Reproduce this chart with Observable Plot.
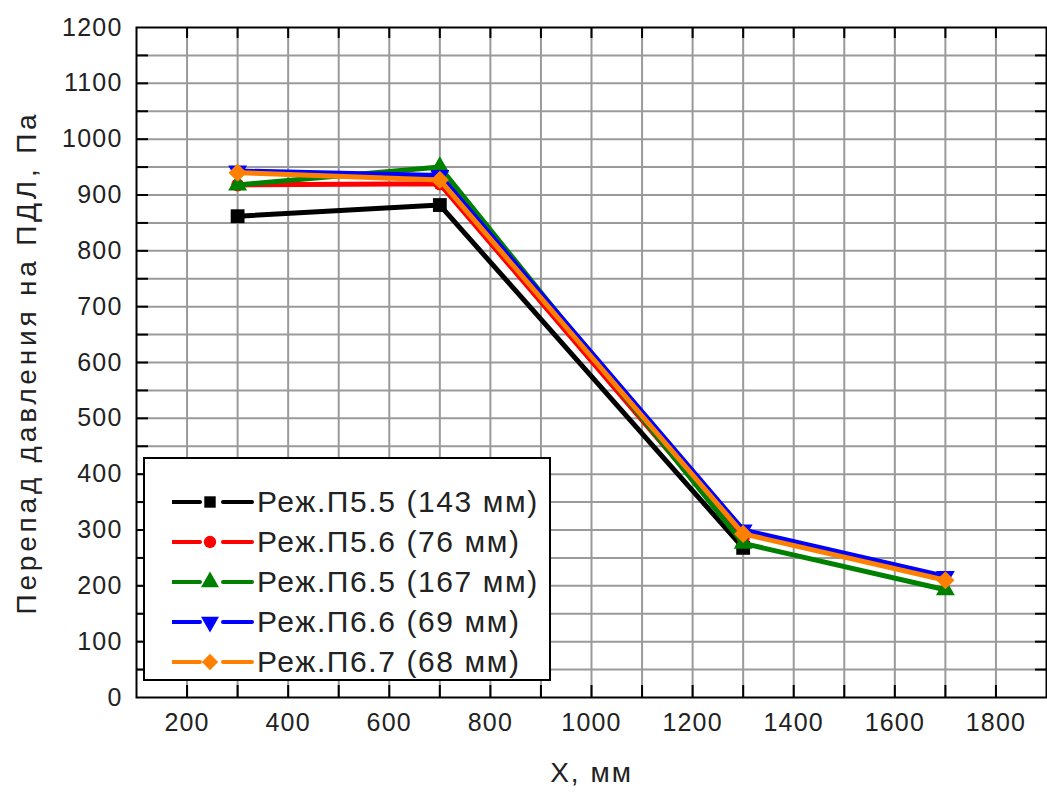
<!DOCTYPE html>
<html><head><meta charset="utf-8">
<script src="https://cdn.jsdelivr.net/npm/d3@7"></script>
<script src="https://cdn.jsdelivr.net/npm/@observablehq/plot@0.6"></script>
<style>
body{margin:0;background:#fff;}
#wrap{position:relative;width:1047px;height:794px;overflow:hidden;background:#fff;}
#wrap svg text{font-family:"Liberation Sans",Arial,sans-serif;fill:#222;}
g[aria-label="x-axis tick label"] text, g[aria-label="y-axis tick label"] text{letter-spacing:1.2px;}
g[aria-label="y-axis label"] text{letter-spacing:3.8px;font-size:28px;}
g[aria-label="x-axis label"] text{letter-spacing:2px;font-size:28px;}
.lg{position:absolute;left:143px;top:457px;width:404px;height:220px;border:2px solid #000;background:#fff;}
.row{position:absolute;left:0;height:40px;width:404px;}
.row svg{position:absolute;left:27px;top:0;}
.row span{position:absolute;left:112px;top:0;line-height:40px;font-family:"Liberation Sans",Arial,sans-serif;font-size:30px;letter-spacing:1.6px;color:#222;white-space:nowrap;}
</style></head>
<body><div id="wrap"></div>
<script>
// ---- data ----
const seriesNames = ["Реж.П5.5 (143 мм)", "Реж.П5.6 (76 мм)", "Реж.П6.5 (167 мм)", "Реж.П6.6 (69 мм)", "Реж.П6.7 (68 мм)"];
const seriesColors = ["#000000", "#ff0000", "#008000", "#0000ff", "#ff8000"];
const seriesSymbols = ["square", "circle", "triangle", "triangle", "diamond2"];
const seriesRotate = [0, 0, 0, 180, 0];
const seriesR = [7.8, 6.5, 7, 7, 8.2];
const xP55 = [300, 700, 1300];       const yP55 = [862, 882, 268];
const xP56 = [300, 700, 1300];       const yP56 = [918, 920, 285];
const xP65 = [300, 700, 1300, 1700]; const yP65 = [918, 950, 276, 193];
const xP66 = [300, 700, 1300, 1700]; const yP66 = [943, 935, 300, 217];
const xP67 = [300, 700, 1300, 1700]; const yP67 = [940, 927, 293, 210];
const xTicks = [200, 400, 600, 800, 1000, 1200, 1400, 1600, 1800];
const yTicks = [0, 100, 200, 300, 400, 500, 600, 700, 800, 900, 1000, 1100, 1200];
const xLabel = "X, мм";
const yLabel = "Перепад давления на ПДЛ, Па";

const xs = [xP55, xP56, xP65, xP66, xP67];
const ys = [yP55, yP56, yP65, yP66, yP67];
const series = xs.map((xa, i) => xa.map((x, j) => ({x, y: ys[i][j]})));

const fmt = d => String(d);
const gridStyle = {stroke: "#9a9a9a", strokeOpacity: 1, strokeWidth: 2};
const marks = [
  Plot.gridX(d3.range(200, 1900, 100), gridStyle),
  Plot.gridY(d3.range(50, 1200, 50), gridStyle),
  Plot.frame({stroke: "#000", strokeWidth: 2}),
  Plot.axisX(d3.range(200, 1900, 100), {anchor: "bottom", tickSize: -12, strokeWidth: 2, tickFormat: () => "", label: null}),
  Plot.axisX(xTicks, {anchor: "bottom", tickSize: 0, tickPadding: 16, fontSize: 25, tickFormat: fmt, label: xLabel, labelArrow: "none", labelAnchor: "center", labelOffset: 84}),
  Plot.axisX(d3.range(200, 1900, 100), {anchor: "top", tickSize: -10, strokeWidth: 2, tickFormat: () => "", label: null}),
  Plot.axisY(d3.range(50, 1200, 50), {anchor: "left", tickSize: -12, strokeWidth: 2, tickFormat: () => "", label: null}),
  Plot.axisY(yTicks, {anchor: "left", tickSize: 0, tickPadding: 14, fontSize: 25, tickFormat: fmt, label: yLabel, labelArrow: "none", labelAnchor: "center", labelOffset: 120}),
  Plot.axisY(d3.range(50, 1200, 50), {anchor: "right", tickSize: -12, strokeWidth: 2, tickFormat: () => "", label: null})
];
series.forEach((d, i) => {
  marks.push(Plot.line(d, {x: "x", y: "y", stroke: seriesColors[i], strokeWidth: 5}));
  marks.push(Plot.dot(d, {x: "x", y: "y", symbol: seriesSymbols[i], fill: seriesColors[i], stroke: "none", r: seriesR[i], rotate: seriesRotate[i]}));
});

const chart = Plot.plot({
  width: 1047, height: 794,
  marginLeft: 136, marginRight: 1, marginTop: 27, marginBottom: 97,
  x: {domain: [100, 1900]},
  y: {domain: [0, 1200]},
  style: {background: "#fff", fontFamily: "Liberation Sans, Arial, sans-serif"},
  marks
});
// make sure no arrows remain in axis labels
d3.select(chart).selectAll('g[aria-label="x-axis label"] text').text(xLabel);
d3.select(chart).selectAll('g[aria-label="y-axis label"] text').text(yLabel);
const wrap = document.getElementById("wrap");
wrap.appendChild(chart);

// legend
const lg = document.createElement("div");
lg.className = "lg";
const symMap = {square: d3.symbolSquare, circle: d3.symbolCircle, triangle: d3.symbolTriangle, diamond2: d3.symbolDiamond2};
const legSizes = [130, 120, 140, 140, 170];
seriesNames.forEach((name, i) => {
  const row = document.createElement("div");
  row.className = "row";
  row.style.top = (22.7 + 40 * i) + "px";
  const path = d3.symbol(symMap[seriesSymbols[i]], legSizes[i])();
  row.innerHTML = `<svg width="84" height="40"><line x1="0" x2="28" y1="20" y2="20" stroke="${seriesColors[i]}" stroke-width="4" stroke-linecap="round"/><line x1="51" x2="80" y1="20" y2="20" stroke="${seriesColors[i]}" stroke-width="4" stroke-linecap="round"/><path d="${path}" transform="translate(38,20) rotate(${seriesRotate[i]})" fill="${seriesColors[i]}"/></svg><span>${name}</span>`;
  lg.appendChild(row);
});
wrap.appendChild(lg);
</script></body></html>
